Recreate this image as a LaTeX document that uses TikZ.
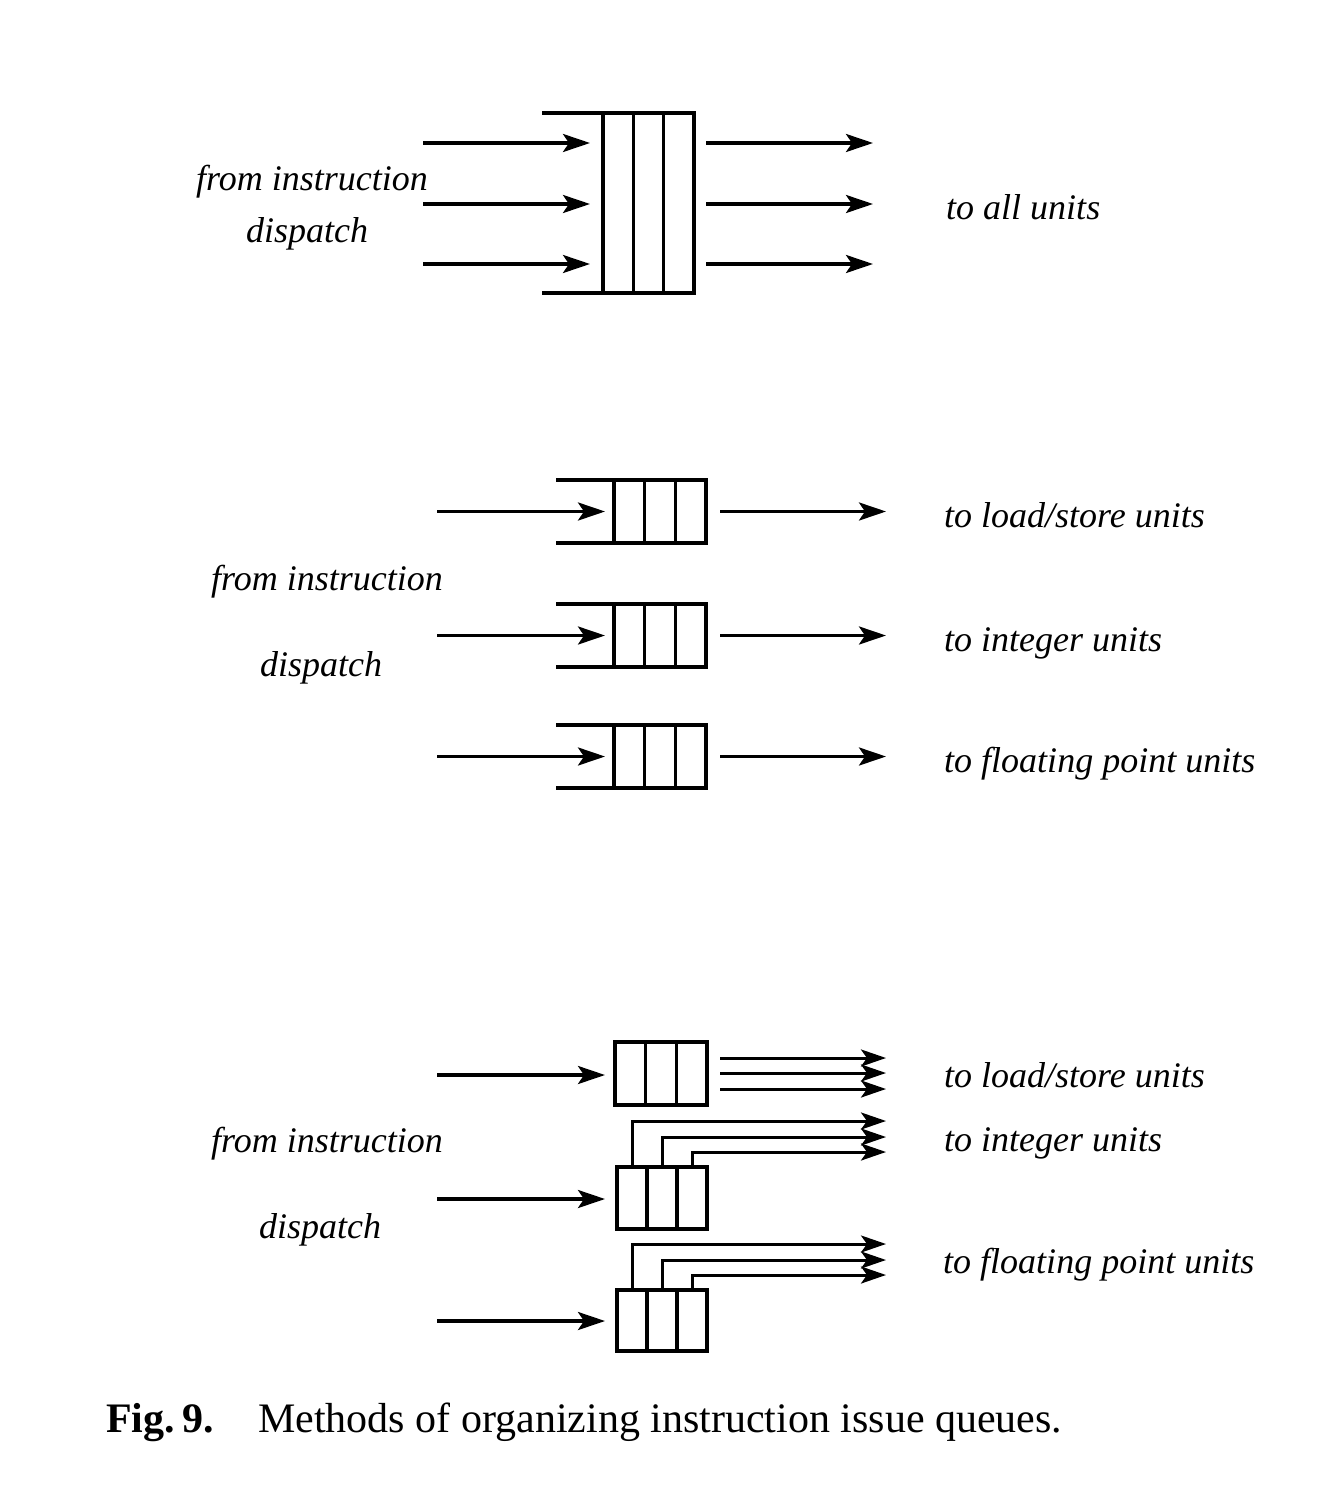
\documentclass[tikz,border=0pt]{standalone}
\usepackage{fontspec}
\setmainfont{Liberation Serif}
\usetikzlibrary{arrows.meta,calc}
\begin{document}
\begin{tikzpicture}[x=1pt,y=-1pt,
  ln/.style={line width=3.4pt},
  arr/.style={line width=3.4pt,-{Stealth[length=27pt,width=18pt,inset=6pt]}},
  sarr/.style={line width=3pt,-{Stealth[length=25pt,width=17pt,inset=6pt]}},
  qbox/.style={draw,line width=3.4pt,rectangle,inner sep=0pt,outer sep=0pt},
  lab/.style={font=\fontsize{36}{40}\selectfont\itshape,anchor=base west,inner sep=0pt},
  capt/.style={font=\fontsize{42}{46}\selectfont,anchor=base west,inner sep=0pt},
]
\useasboundingbox (0,0) rectangle (1334,1488);

% ---------- top: single shared queue ----------
\node[qbox,minimum width=91pt,minimum height=180pt] (q0) at (648.5,203) {};
\foreach \f in {1,2}
  \draw[ln] ($(q0.north west)!\f/3!(q0.north east)$) -- ($(q0.south west)!\f/3!(q0.south east)$);
\draw[ln] (q0.north west) -- ++(-61,0);
\draw[ln] (q0.south west) -- ++(-61,0);
\foreach \y [count=\i] in {143,204,264}{
  \coordinate (ta\i) at (423,\y);
  \coordinate (tb\i) at (590,\y);
  \coordinate (tc\i) at (706,\y);
  \coordinate (td\i) at (873,\y);
  \draw[arr] (ta\i) -- (tb\i);
  \draw[arr] (tc\i) -- (td\i);
}
\node[lab] (t1) at (196,190) {from instruction};
\node[lab] (t2) at (246,242) {dispatch};
\node[lab] (t3) at (946,219) {to all units};

% ---------- middle: separate queues ----------
\foreach \y [count=\i] in {511.5,635.5,756.5}{
  \node[qbox,minimum width=92pt,minimum height=63pt] (m\i) at (660,\y) {};
  \foreach \f in {1,2}
    \draw[ln] ($(m\i.north west)!\f/3!(m\i.north east)$) -- ($(m\i.south west)!\f/3!(m\i.south east)$);
  \draw[ln] (m\i.north west) -- ++(-58,0);
  \draw[ln] (m\i.south west) -- ++(-58,0);
  \coordinate (ma\i) at (437,\y);
  \coordinate (mb\i) at (605,\y);
  \coordinate (mc\i) at (720,\y);
  \coordinate (md\i) at (886,\y);
  \draw[arr] (ma\i) -- (mb\i);
  \draw[arr] (mc\i) -- (md\i);
}
\node[lab] (m4) at (944,527) {to load/store units};
\node[lab] (m5) at (211,590) {from instruction};
\node[lab] (m6) at (944,651) {to integer units};
\node[lab] (m7) at (260,676) {dispatch};
\node[lab] (m8) at (944,772) {to floating point units};

% ---------- bottom: queues with multiple outputs ----------
\node[qbox,minimum width=92pt,minimum height=63pt] (bA) at (661,1073.5) {};
\node[qbox,minimum width=90pt,minimum height=62pt] (bB) at (662,1198) {};
\node[qbox,minimum width=90pt,minimum height=61pt] (bC) at (662,1320.5) {};
\foreach \q in {bA,bB,bC}
  \foreach \f in {1,2}
    \draw[ln] ($(\q.north west)!\f/3!(\q.north east)$) -- ($(\q.south west)!\f/3!(\q.south east)$);
\foreach \y [count=\i] in {1075,1199,1321}{
  \coordinate (ba\i) at (437,\y);
  \coordinate (bb\i) at (605,\y);
  \draw[arr] (ba\i) -- (bb\i);
}
% outputs of load/store queue
\foreach \y [count=\i] in {1058,1073,1089}{
  \coordinate (la\i) at (720,\y);
  \coordinate (lb\i) at (886,\y);
  \draw[sarr] (la\i) -- (lb\i);
}
% outputs of integer queue
\foreach \y/\f [count=\i] in {1121/1,1137/3,1152/5}{
  \coordinate (ib\i) at (886,\y);
  \draw[sarr] ($(bB.north west)!\f/6!(bB.north east)$) |- (ib\i);
}
% outputs of floating point queue
\foreach \y/\f [count=\i] in {1244/1,1260/3,1275/5}{
  \coordinate (fb\i) at (886,\y);
  \draw[sarr] ($(bC.north west)!\f/6!(bC.north east)$) |- (fb\i);
}
\node[lab] (b4) at (944,1087) {to load/store units};
\node[lab] (b5) at (211,1152) {from instruction};
\node[lab] (b6) at (944,1151) {to integer units};
\node[lab] (b7) at (259,1238) {dispatch};
\node[lab] (b8) at (943,1273) {to floating point units};

% ---------- caption ----------
\node[capt,font=\fontsize{42}{46}\selectfont\bfseries] (fig) at (106,1432) {Fig.\,9.};
\node[capt] (cap) at (258,1432) {Methods of organizing instruction issue queues.};
\end{tikzpicture}
\end{document}
